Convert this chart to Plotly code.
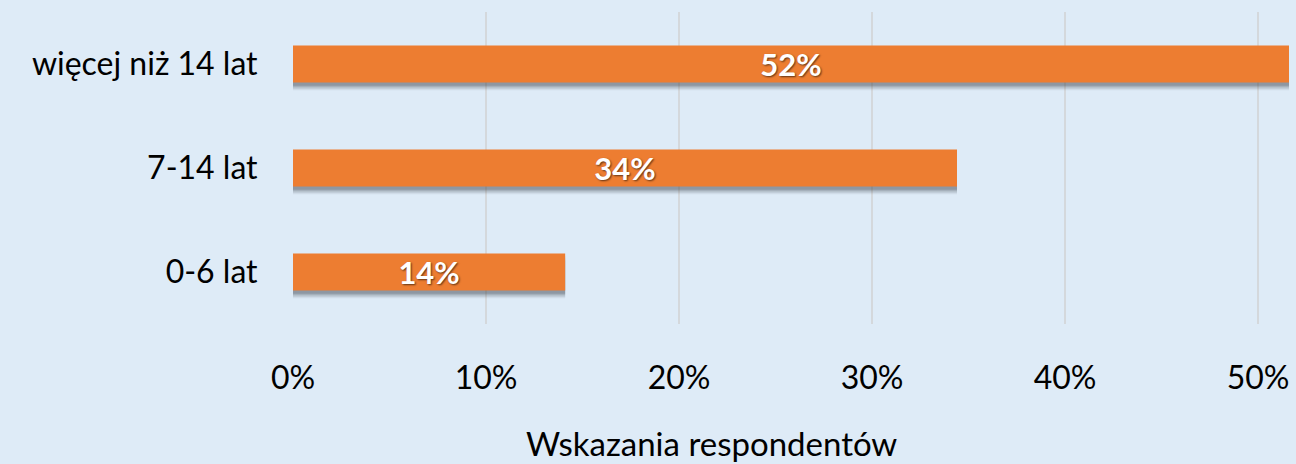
import plotly.graph_objects as go

categories = ["0-6 lat", "7-14 lat", "więcej niż 14 lat"]
values = [0.141, 0.344, 0.516]
tick_vals = [0, 0.1, 0.2, 0.3, 0.4, 0.5]
tick_text = ["0%", "10%", "20%", "30%", "40%", "50%"]
axis_title = "Wskazania respondentów"

BG = "#DEEBF7"
BAR = "#ED7D31"
FONT = "Lato"
W = 0.356

fig = go.Figure()
# soft shadow layers
for off, op in [(0.075, 0.08), (0.060, 0.12), (0.045, 0.16), (0.030, 0.20)]:
    fig.add_trace(go.Bar(
        y=categories, x=values, orientation="h",
        width=W, offset=-W / 2 - off,
        marker=dict(color=f"rgba(50,55,65,{op})", line=dict(width=0)),
        hoverinfo="skip", showlegend=False,
    ))
fig.add_trace(go.Bar(
    y=categories, x=values, orientation="h",
    width=W, offset=-W / 2,
    marker=dict(color=BAR, line=dict(width=0)),
    texttemplate="<b>%{x:.0%}</b>",
    textposition="inside", insidetextanchor="middle",
    constraintext="none",
    textfont=dict(family=FONT, size=31, color="white",
                  shadow="1px 1px 2px rgba(0,0,0,0.6)"),
    showlegend=False,
))

fig.update_layout(
    width=1296, height=464, autosize=False,
    margin=dict(l=293, r=7, t=12, b=140),
    paper_bgcolor=BG, plot_bgcolor=BG,
    barmode="overlay",
    font=dict(family=FONT, size=32, color="black"),
    xaxis=dict(range=[0, 0.516], tickvals=tick_vals, ticktext=tick_text,
               showgrid=True, gridcolor="#D4D8DC", gridwidth=1.5,
               zeroline=False, showline=False,
               ticks="outside", ticklen=26, tickcolor="rgba(0,0,0,0)",
               tickfont=dict(family=FONT, size=32, color="black")),
    yaxis=dict(categoryorder="array", categoryarray=categories,
               range=[-0.5, 2.5],
               showgrid=False, zeroline=False, showline=False,
               ticks="outside", ticklen=28, tickcolor="rgba(0,0,0,0)",
               tickfont=dict(family=FONT, size=32, color="black")),
    annotations=[dict(text=axis_title, xref="paper", yref="paper",
                      x=0.42, y=-0.383, xanchor="center", yanchor="middle",
                      showarrow=False,
                      font=dict(family=FONT, size=33, color="black"))],
)

fig.write_html("out.html", config={"displayModeBar": False},
               post_script="document.body.style.margin='0';")
